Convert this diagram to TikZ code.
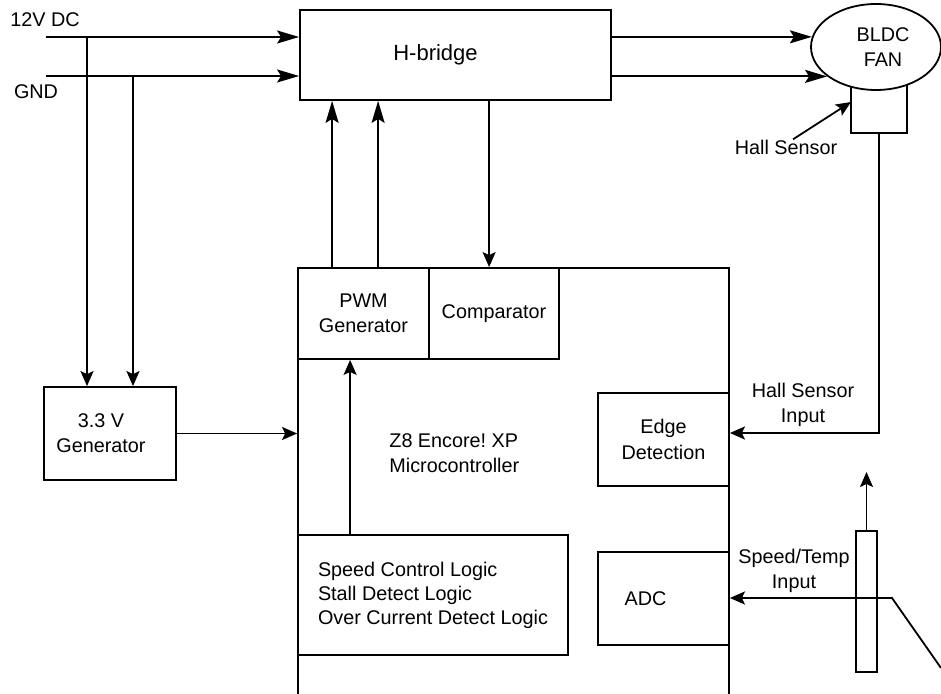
\documentclass[tikz,border=0pt]{standalone}
\usepackage{fontspec}
\setmainfont{Liberation Sans}
\usetikzlibrary{arrows.meta,shapes.geometric}

\tikzset{
  box/.style={draw,line width=0.9pt,inner sep=0pt,align=center,font=\fontsize{9.9}{12.6}\selectfont},
  lbl/.style={inner sep=0pt,align=center,font=\fontsize{9.9}{12.6}\selectfont},
  wire/.style={line width=0.9pt},
  arr/.style={wire,-{Stealth[length=7.5pt,width=6.5pt,inset=1.5pt]}},
  bigarr/.style={wire,-{Stealth[length=11pt,width=6.5pt,inset=2pt]}}
}

\begin{document}
\frenchspacing
\begin{tikzpicture}[x=0.5pt,y=-0.5pt]
\clip (0,0) rectangle (941,694);

% blocks
\node[box,minimum width=155.5pt,minimum height=45pt,font=\fontsize{11}{13}\selectfont] (hb) at (455.5,55) {H-bridge\hspace*{20pt}};
\node[box,ellipse,minimum width=65pt,minimum height=43pt] (fan) at (876,47) {\hspace*{7pt}BLDC\\\hspace*{7pt}FAN};
\node[box,minimum width=215.5pt,minimum height=226pt] (mc) at (513.5,494) {};
\node[box,minimum width=65.5pt,minimum height=45.5pt] (pwm) at (363.5,313.5) {PWM\\Generator};
\node[box,minimum width=65pt,minimum height=45.5pt] (cmp) at (494,313.5) {Comparator};
\node[box,minimum width=66pt,minimum height=46.5pt] (gen) at (110,433.5) {3.3 V\hspace*{9pt}\\Generator\hspace*{9pt}};
\node[box,minimum width=65.5pt,minimum height=46.5pt] (edge) at (663.5,439.5) {Edge\\Detection};
\node[box,minimum width=65.5pt,minimum height=46.5pt] (adc) at (663.5,598.5) {ADC\hspace*{18pt}};
\node[box,minimum width=135pt,minimum height=60pt,align=left,font=\fontsize{9.9}{12}\selectfont] (spd) at (433,595)
  {Speed Control Logic\\Stall Detect Logic\\Over Current Detect Logic};
\node[box,minimum width=10.5pt,minimum height=70.5pt] (pot) at (866.5,601.5) {};

% labels
\node[lbl] (vdc) at (45,20) {12V DC};
\node[lbl] (gndl) at (36,92) {GND};
\node[lbl] (hallsn) at (786,147) {Hall Sensor};
\node[lbl,anchor=west,align=left] (mcl) at (389,453) {Z8 Encore! XP\\Microcontroller};
\node[lbl] (hallin) at (803,405) {Hall Sensor\\Input};
\node[lbl] (spdin) at (794,571) {Speed/Temp\\Input};

% supply rails
\coordinate (vin) at (46,37);
\coordinate (gnd) at (46,76);
\coordinate (tapA) at (87,37);
\coordinate (tapB) at (133,76);
\draw[bigarr] (vin) -- (vin -| hb.west);
\draw[bigarr] (gnd) -- (gnd -| hb.west);
\draw[arr] (tapA) -- (gen.north -| tapA);
\draw[arr] (tapB) -- (gen.north -| tapB);
\draw[arr] (gen.east) -- (gen.east -| mc.west);

% bridge outputs to the fan
\draw[bigarr] (hb.east |- fan.171) -- (fan.171);
\draw[bigarr] (hb.east |- fan.211) -- (fan.211);

% PWM and comparator
\draw[bigarr] ([xshift=17.5pt]pwm.north west) -- ([xshift=17.5pt]pwm.north west |- hb.south);
\draw[bigarr] ([xshift=40.5pt]pwm.north west) -- ([xshift=40.5pt]pwm.north west |- hb.south);
\draw[arr] ([xshift=95pt]hb.south west) -- ([xshift=95pt]hb.south west |- cmp.north);
\draw[arr] ([xshift=26.5pt]spd.north west) -- ([xshift=26.5pt]spd.north west |- pwm.south);

% hall sensor
\coordinate (hs) at (851,102);
\coordinate (hsout) at (879,133);
\coordinate (hsin) at (879,433);
\draw[wire] (851,87) -- (851,133) -- (907,133) -- (907,85);
\draw[arr] ([xshift=3.5pt]hallsn.north) -- (hs);
\draw[arr] (hsout) -- (hsin) -- (edge.east |- hsin);

% speed/temp input
\coordinate (wiper) at (866.5,472);
\coordinate (knee) at (892,598);
\coordinate (far) at (941,668);
\draw[arr] (pot.north) -- (wiper);
\draw[arr] (far) -- (knee) -- (adc.east |- knee);
\end{tikzpicture}
\end{document}
